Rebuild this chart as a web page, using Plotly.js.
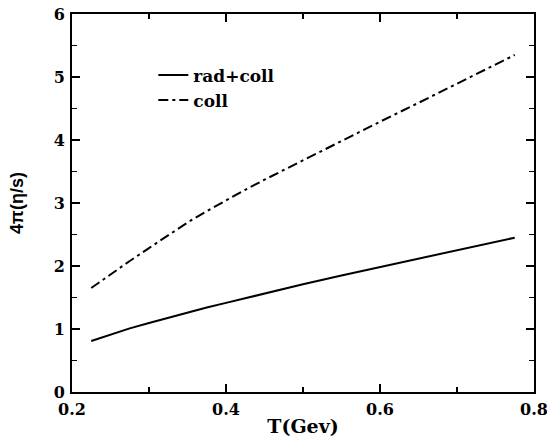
<!DOCTYPE html>
<html>
<head>
<meta charset="utf-8">
<script src="https://cdn.plot.ly/plotly-3.0.1.min.js"></script>
<style>html,body{margin:0;padding:0;background:#fff;}#chart{width:547px;height:441px;}</style>
</head>
<body>
<div id="chart"></div>
<script>
// Temperature T (GeV)
var temperature = [0.225, 0.25, 0.275, 0.3, 0.325, 0.35, 0.375, 0.4, 0.425, 0.45, 0.5, 0.55, 0.6, 0.65, 0.7, 0.75, 0.775];
// 4π(η/s) radiative + collisional
var radColl = [0.81, 0.91, 1.01, 1.095, 1.18, 1.26, 1.34, 1.415, 1.49, 1.565, 1.71, 1.85, 1.985, 2.12, 2.25, 2.385, 2.45];
// 4π(η/s) collisional only
var collOnly = [1.65, 1.87, 2.08, 2.285, 2.49, 2.69, 2.87, 3.045, 3.21, 3.37, 3.68, 3.99, 4.29, 4.59, 4.89, 5.19, 5.35];
var seriesNames = ["rad+coll", "coll"];
var xTicks = [0.2, 0.4, 0.6, 0.8];
var yTicks = [0, 1, 2, 3, 4, 5, 6];

var serif = "DejaVu Serif";
var traces = [
  {x: temperature, y: radColl, name: seriesNames[0], mode: "lines",
   line: {color: "#000", width: 2, dash: "solid"}},
  {x: temperature, y: collOnly, name: seriesNames[1], mode: "lines",
   line: {color: "#000", width: 2, dash: "10px,4px,3px,4px"}}
];
var axisCommon = {
  showgrid: false, zeroline: false, showline: true, linecolor: "#000", linewidth: 2,
  mirror: "allticks", ticks: "inside", ticklen: 8, tickwidth: 1.5, tickcolor: "#000",
  ticklabeloverflow: "allow",
  tickfont: {family: serif, size: 16, color: "#000", weight: "bold"}
};
var layout = {
  width: 547, height: 441,
  margin: {l: 72, r: 13, t: 14, b: 49},
  paper_bgcolor: "#fff", plot_bgcolor: "#fff",
  showlegend: true,
  legend: {x: 0.176, y: 0.885, xanchor: "left", yanchor: "top",
           bgcolor: "rgba(0,0,0,0)", borderwidth: 0,
           font: {family: serif, size: 17, color: "#000", weight: "bold"},
           tracegroupgap: 0},
  xaxis: Object.assign({}, axisCommon, {
    range: [0.2, 0.8], tickvals: xTicks, ticktext: xTicks.map(function(v){return v.toFixed(1);}),
    ticklabelstandoff: 2,
    minor: {dtick: 0.1, tick0: 0.2, ticks: "inside", ticklen: 5, tickwidth: 1.5, tickcolor: "#000"},
    title: {text: "T(Gev)", font: {family: serif, size: 19, color: "#000", weight: "bold"}, standoff: 1}
  }),
  yaxis: Object.assign({}, axisCommon, {
    range: [0, 6], tickvals: yTicks, ticktext: yTicks.map(String),
    ticklabelstandoff: 2,
    minor: {dtick: 0.5, tick0: 0, ticks: "inside", ticklen: 5, tickwidth: 1.5, tickcolor: "#000"},
    title: {text: "4π(η/s)", font: {family: "Liberation Sans", size: 18, color: "#000", weight: "bold"}, standoff: 25}
  })
};
Plotly.newPlot("chart", traces, layout, {displayModeBar: false, staticPlot: true});
</script>
</body>
</html>
